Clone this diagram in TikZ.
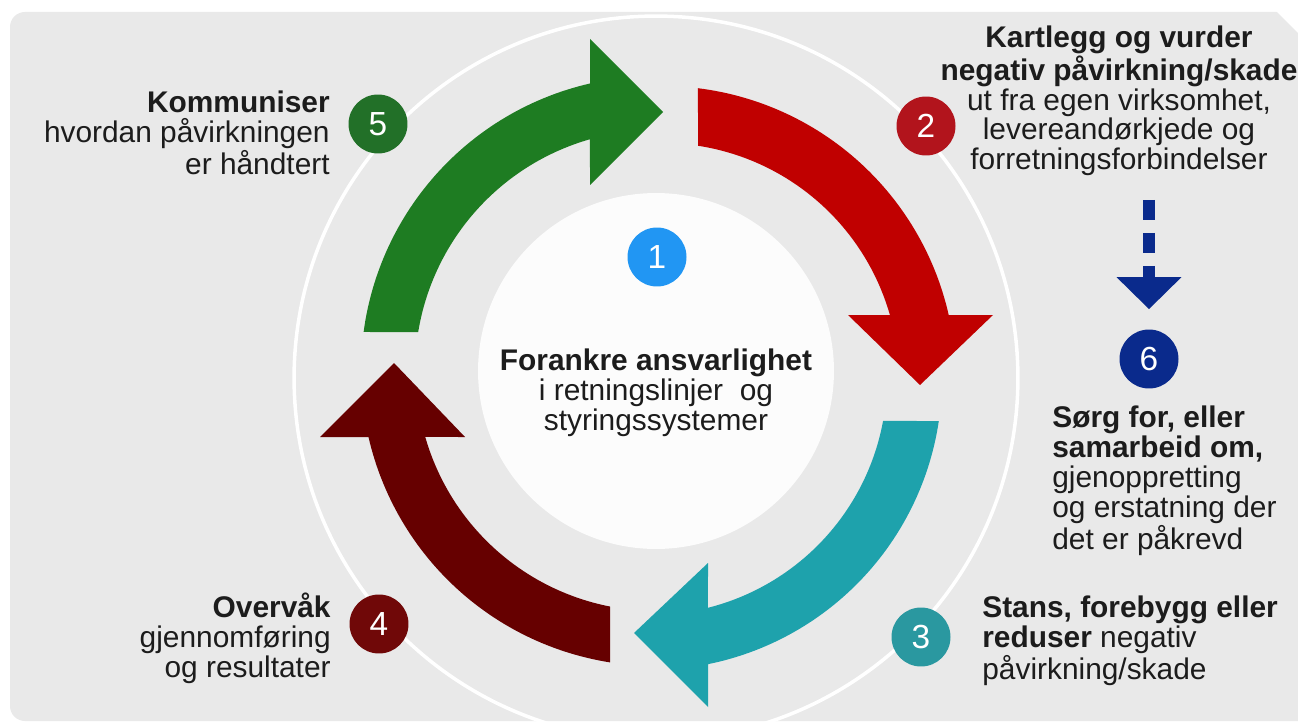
\documentclass[tikz,border=0pt]{standalone}
\usepackage{fontspec}
\setmainfont{Liberation Sans}
\usetikzlibrary{arrows.meta}
\definecolor{bggrey}{RGB}{233,233,233}
\definecolor{discwhite}{RGB}{252,252,252}
\definecolor{cgreen}{RGB}{30,124,34}
\definecolor{cred}{RGB}{192,0,0}
\definecolor{cteal}{RGB}{30,162,172}
\definecolor{cdark}{RGB}{102,0,0}
\definecolor{nfive}{RGB}{34,112,40}
\definecolor{ntwo}{RGB}{178,20,28}
\definecolor{nonecol}{RGB}{33,150,243}
\definecolor{nthree}{RGB}{42,152,160}
\definecolor{nfour}{RGB}{112,8,8}
\definecolor{navyblue}{RGB}{10,42,140}
\definecolor{txtdark}{RGB}{28,28,28}
\begin{document}
\begin{tikzpicture}[x=0.02cm, y=-0.02cm,
  txt/.style={font=\fontsize{17}{17}\selectfont, text=txtdark, inner sep=0pt},
  numcirc/.style={circle, minimum size=1.18cm, inner sep=0pt, text=white, font=\fontsize{19}{19}\selectfont},
  arrowband/.style={draw=none}]
\useasboundingbox (0,0) rectangle (1298,726);
\clip (0,0) rectangle (1298,726);
\fill[white] (0,0) rectangle (1298,726);
\fill[bggrey, rounded corners=0.3cm] (10,12) rectangle (1330,721);
\fill[white] (1276,11) -- (1299,11) -- (1299,34) -- cycle;

% outer ring and inner disc
\draw[white, line width=0.07cm] (656,378) circle [radius=7.24cm];
\fill[discwhite] (656,371) circle [radius=3.56cm];

% green arrow (5)
\fill[cgreen, arrowband] plot[domain=-172.4:-102.9, samples=60, variable=\t] ({656+295*cos(\t)},{371+295*sin(\t)})
  -- (590,39) -- (663,112) -- (590,185)
  -- plot[domain=-105.9:-170.7, samples=60, variable=\t] ({656+241*cos(\t)},{371+241*sin(\t)}) -- cycle;
% red arrow (2)
\fill[cred, arrowband] plot[domain=-82.97:-12.77, samples=60, variable=\t] ({662+294*cos(\t)},{380+294*sin(\t)})
  -- (993,315) -- (920,385) -- (848,315)
  -- plot[domain=-15.92:-81.26, samples=60, variable=\t] ({662+237*cos(\t)},{380+237*sin(\t)}) -- cycle;
% teal arrow (3)
\fill[cteal, arrowband] plot[domain=8.47:78.54, samples=60, variable=\t] ({650+292*cos(\t)},{378+292*sin(\t)})
  -- (708,707) -- (634,633) -- (708,563)
  -- plot[domain=75.84:10.45, samples=60, variable=\t] ({650+237*cos(\t)},{378+237*sin(\t)}) -- cycle;
% dark red arrow (4)
\fill[cdark, arrowband] plot[domain=98.97:167.07, samples=60, variable=\t] ({656+295*cos(\t)},{371+295*sin(\t)})
  -- (320,437) -- (394,363) -- (465,437)
  -- plot[domain=164.04:101.05, samples=60, variable=\t] ({656+240*cos(\t)},{371+240*sin(\t)}) -- cycle;

% numbered circles
\node[numcirc, fill=nfive] (n5) at (378,124) {5};
\node[numcirc, fill=ntwo] (n2) at (926,126) {2};
\node[numcirc, fill=nonecol] (n1) at (657,257) {1};
\node[numcirc, fill=nthree] (n3) at (921,637) {3};
\node[numcirc, fill=nfour] (n4) at (379,624) {4};
\node[numcirc, fill=navyblue] (n6) at (1149,359) {6};

% dashed arrow to 6
\coordinate (d0) at (1149,200);
\draw[navyblue, line width=0.24cm, dash pattern=on 0.4cm off 0.26cm,
  -{Triangle[width=1.26cm,length=0.64cm]}, shorten >=0.4cm] (d0) -- (n6);

% texts
\node[txt, align=right, anchor=east] (t5) at (330,133)
  {\textbf{Kommuniser}\\hvordan påvirkningen\\er håndtert};
\node[txt, align=center] (t2) at (1119,101)
  {\textbf{Kartlegg og vurder}\\\textbf{negativ påvirkning/skade}\\ut fra egen virksomhet,\\levereandørkjede og\\forretningsforbindelser};
\node[txt, align=left, anchor=west] (t6) at (1052,481)
  {\textbf{Sørg for, eller}\\\textbf{samarbeid om,}\\gjenoppretting\\og erstatning der\\det er påkrevd};
\node[txt, align=left, anchor=west] (t3) at (982,641)
  {\textbf{Stans, forebygg eller}\\\textbf{reduser} negativ\\påvirkning/skade};
\node[txt, align=right, anchor=east] (t4) at (331,638)
  {\textbf{Overvåk}\\gjennomføring\\og resultater};
\node[txt, align=center] (t1) at (656,393)
  {\textbf{Forankre ansvarlighet}\\i retningslinjer~ og\\styringssystemer};
\end{tikzpicture}
\end{document}
